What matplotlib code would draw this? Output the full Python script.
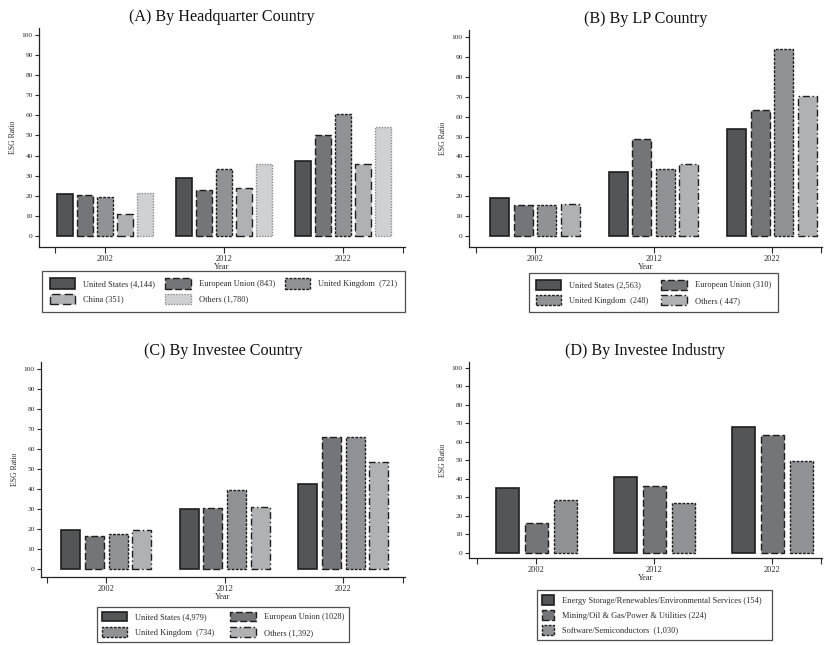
import matplotlib
matplotlib.use("Agg")
import matplotlib.pyplot as plt
from matplotlib.patches import Patch
import numpy as np

plt.rcParams['font.family'] = ['Liberation Serif', 'DejaVu Serif']

years = ["2002", "2012", "2022"]

# (A) By headquarter country
hq_labels = ["United States (4,144)", "European Union (843)", "United Kingdom  (721)",
             "China (351)", "Others (1,780)"]
hq_us = [21.0, 29.0, 37.3]
hq_eu = [20.5, 23.0, 50.2]
hq_uk = [19.3, 33.5, 60.6]
hq_cn = [11.0, 23.8, 36.0]
hq_ot = [21.5, 35.8, 54.0]

# (B) By LP country
lp_labels = ["United States (2,563)", "European Union (310)",
             "United Kingdom  (248)", "Others ( 447)"]
lp_us = [19.0, 32.0, 53.8]
lp_eu = [15.7, 48.7, 63.2]
lp_uk = [15.4, 33.8, 94.0]
lp_ot = [16.0, 36.0, 70.5]

# (C) By investee country
ic_labels = ["United States (4,979)", "European Union (1028)",
             "United Kingdom  (734)", "Others (1,392)"]
ic_us = [19.6, 30.0, 42.3]
ic_eu = [16.6, 30.3, 66.0]
ic_uk = [17.3, 39.7, 66.0]
ic_ot = [19.7, 30.8, 53.6]

# (D) By investee industry
ind_labels = ["Energy Storage/Renewables/Environmental Services (154)",
              "Mining/Oil & Gas/Power & Utilities (224)",
              "Software/Semiconductors  (1,030)"]
ind_energy = [35.3, 40.8, 68.3]
ind_mining = [16.0, 36.2, 63.8]
ind_soft = [28.6, 26.8, 49.5]

EDGE = "#1e1e1e"
TXT = "#2a2a2a"
STY_US = dict(facecolor="#545557", edgecolor=EDGE, linestyle="-", linewidth=1.2)
STY_EU = dict(facecolor="#747578", edgecolor=EDGE, linestyle=(0, (5, 2)), linewidth=1.0)
STY_UK = dict(facecolor="#919295", edgecolor=EDGE, linestyle=(0, (2, 1)), linewidth=1.0)
STY_CN = dict(facecolor="#b0b1b3", edgecolor=EDGE, linestyle=(0, (6, 3)), linewidth=1.0)
STY_OT_A = dict(facecolor="#d0d1d3", edgecolor="#8a8a8a", linestyle=(0, (1, 1)), linewidth=1.0)
STY_OT = dict(facecolor="#b0b1b3", edgecolor=EDGE, linestyle=(0, (5, 2, 1, 2)), linewidth=1.0)

W, H = 828, 645
fig = plt.figure(figsize=(W / 100, H / 100), dpi=100)


def px_axes(left, right, top, bottom):
    return fig.add_axes([left / W, 1 - bottom / H, (right - left) / W, (bottom - top) / H])


def panel(ax, title, series, styles, pitch, width, xlim, ylim, end_ticks):
    x = np.arange(len(years))
    n = len(series)
    for i, (vals, sty) in enumerate(zip(series, styles)):
        ax.bar(x + (i - (n - 1) / 2) * pitch, vals, width=width, **sty)
    ax.set_xlim(*xlim)
    ax.set_ylim(*ylim)
    ax.set_yticks(range(0, 101, 10))
    ax.set_xticks(x)
    ax.set_xticklabels(years)
    ax.set_xticks(end_ticks, minor=True)
    ax.tick_params(axis="y", labelsize=5.3, length=3, width=0.8, pad=1.5, colors=TXT)
    ax.tick_params(axis="x", which="both", labelsize=6, length=4, width=0.8, pad=1.5,
                   colors=TXT)
    for s in ("top", "right"):
        ax.spines[s].set_visible(False)
    for s in ("left", "bottom"):
        ax.spines[s].set_linewidth(0.9)
        ax.spines[s].set_color("#222")
    ax.set_ylabel("ESG Ratio", fontsize=5.6, labelpad=3.5, color=TXT)
    ax.set_xlabel("Year", fontsize=6, labelpad=0, color=TXT)
    ax.set_title(title, fontsize=11.6, pad=5, color="#111")


def row_major(items, ncol):
    # matplotlib fills legend columns first; reorder so entries read across rows
    nrow = -(-len(items) // ncol)
    rows = [items[r * ncol:(r + 1) * ncol] for r in range(nrow)]
    out = []
    for c in range(ncol):
        for r in rows:
            if c < len(r):
                out.append(r[c])
    return out


def legend(labels, styles, box, ncol, hl, hh, rowspace, bpad):
    left, right, top, bottom = box
    handles = [Patch(**sty) for sty in styles]
    pairs = row_major(list(zip(handles, labels)), ncol)
    leg = fig.legend([p[0] for p in pairs], [p[1] for p in pairs], loc="upper left",
                     ncol=ncol, mode="expand",
                     bbox_to_anchor=(left / W, 1 - top / H, (right - left) / W, 0),
                     fontsize=6, frameon=True, fancybox=False, handlelength=hl,
                     handleheight=hh, handletextpad=0.95, borderpad=bpad,
                     labelspacing=rowspace, borderaxespad=0, columnspacing=1.0)
    leg.get_frame().set_edgecolor("#222")
    leg.get_frame().set_linewidth(0.9)
    for t in leg.get_texts():
        t.set_color(TXT)
    return leg


# panel A
axA = px_axes(39, 405, 28, 247)
panel(axA, "(A) By Headquarter Country", [hq_us, hq_eu, hq_uk, hq_cn, hq_ot],
      [STY_US, STY_EU, STY_UK, STY_CN, STY_OT_A], 0.168, 0.129,
      (-0.555, 2.52), (-5.5, 103.5), [-0.42, 2.5])
legend(hq_labels, [STY_US, STY_EU, STY_UK, STY_CN, STY_OT_A], (42, 405, 271, 313),
       3, 3.1, 1.5, 0.62, 0.9)

# panel B
axB = px_axes(469, 822, 30, 247)
panel(axB, "(B) By LP Country", [lp_us, lp_eu, lp_uk, lp_ot],
      [STY_US, STY_EU, STY_UK, STY_OT], 0.198, 0.16,
      (-0.557, 2.42), (-5.5, 103.5), [-0.5, 2.41])
legend(lp_labels, [STY_US, STY_EU, STY_UK, STY_OT], (529, 778, 273, 312),
       2, 3.1, 1.5, 0.62, 0.8)

# panel C
axC = px_axes(41, 405, 362, 577)
panel(axC, "(C) By Investee Country", [ic_us, ic_eu, ic_uk, ic_ot],
      [STY_US, STY_EU, STY_UK, STY_OT], 0.2, 0.16,
      (-0.55, 2.52), (-4.0, 103.5), [-0.5, 2.5])
legend(ic_labels, [STY_US, STY_EU, STY_UK, STY_OT], (97, 349, 607, 643),
       2, 3.1, 1.45, 0.7, 0.55)

# panel D
axD = px_axes(469, 822, 362, 558)
panel(axD, "(D) By Investee Industry", [ind_energy, ind_mining, ind_soft],
      [STY_US, STY_EU, STY_UK], 0.248, 0.195,
      (-0.57, 2.42), (-2.7, 103.2), [-0.5, 2.41])
legend(ind_labels, [STY_US, STY_EU, STY_UK], (537, 772, 590, 641),
       1, 1.55, 1.55, 0.55, 0.55)

fig.savefig("out.png", dpi=100)
